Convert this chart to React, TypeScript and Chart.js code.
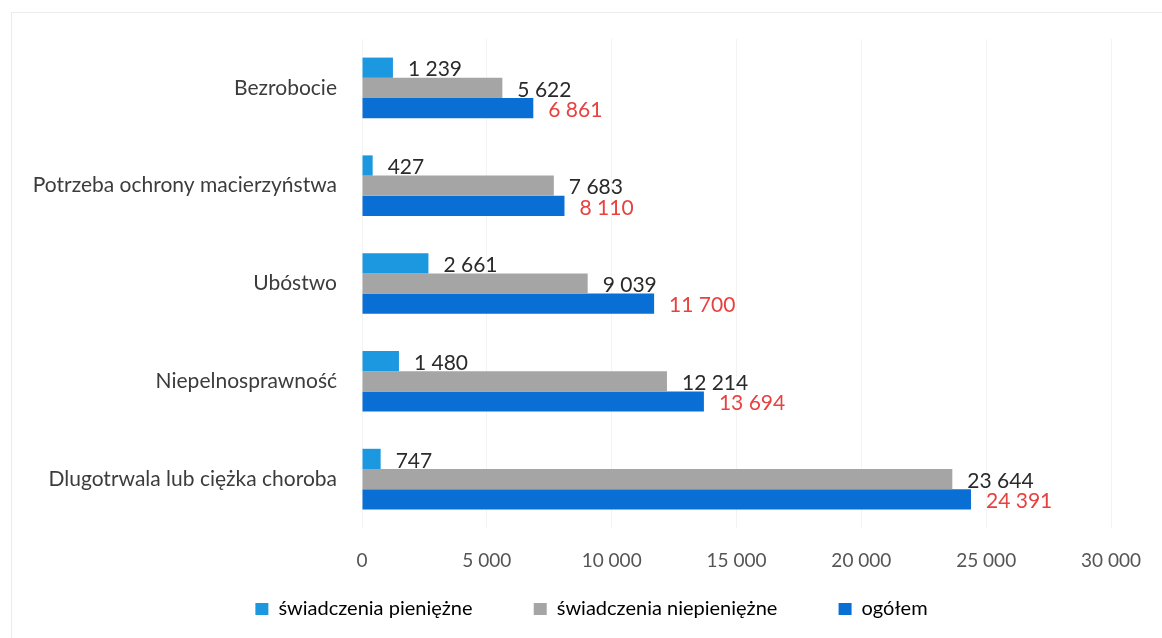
import React, { useEffect, useRef } from "react";
import { Chart, registerables } from "chart.js";

Chart.register(...registerables);

const categories = [
  "Bezrobocie",
  "Potrzeba ochrony macierzyństwa",
  "Ubóstwo",
  "Niepelnosprawność",
  "Dlugotrwala lub ciężka choroba",
];
const seriesNames = ["świadczenia pieniężne", "świadczenia niepieniężne", "ogółem"];
const pieniezne = [1239, 427, 2661, 1480, 747];
const niepieniezne = [5622, 7683, 9039, 12214, 23644];
const ogolem = [6861, 8110, 11700, 13694, 24391];
const axisMin = 0;
const axisMax = 30000;
const axisStep = 5000;

const FONT = "Lato, 'Open Sans', sans-serif";
const colors = ["#1C98E0", "#A5A5A5", "#0A6FD4"];
const labelColors = ["#2a2a2a", "#2a2a2a", "#E8413F"];

const fmt = (n: number) => String(n).replace(/\B(?=(\d{3})+(?!\d))/g, " ");

const valueLabels = {
  id: "valueLabels",
  afterDatasetsDraw(chart: any) {
    const ctx = chart.ctx;
    chart.data.datasets.forEach((ds: any, di: number) => {
      const meta = chart.getDatasetMeta(di);
      meta.data.forEach((el: any, i: number) => {
        ctx.save();
        ctx.font = `21px ${FONT}`;
        ctx.fillStyle = labelColors[di];
        ctx.textAlign = "left";
        ctx.textBaseline = "middle";
        ctx.fillText(fmt(ds.data[i]), el.x + 15, el.y + 2);
        ctx.restore();
      });
    });
  },
};

const frame = {
  id: "frame",
  beforeDraw(chart: any) {
    const ctx = chart.ctx;
    ctx.save();
    ctx.fillStyle = "#ffffff";
    ctx.fillRect(0, 0, chart.width, chart.height);
    ctx.strokeStyle = "#ececec";
    ctx.lineWidth = 1;
    ctx.strokeRect(11.5, 12.5, chart.width + 10, chart.height + 10);
    ctx.restore();
  },
};

// shift the legend row so it is centred like in the reference
const legendShift = {
  id: "legendShift",
  afterLayout(chart: any) {
    if (chart.legend) {
      chart.legend.left += 26;
      chart.legend.right += 26;
    }
  },
};

export default function App() {
  const ref = useRef<HTMLCanvasElement | null>(null);
  useEffect(() => {
    document.body.style.margin = "0";
    const gap = "\u00a0".repeat(10);
    const legendTexts = seriesNames.map((s, i) => (i < seriesNames.length - 1 ? s + gap : s));
    const chart = new Chart(ref.current as HTMLCanvasElement, {
      type: "bar",
      data: {
        labels: categories,
        datasets: [pieniezne, niepieniezne, ogolem].map((d, i) => ({
          label: seriesNames[i],
          data: d,
          backgroundColor: colors[i],
          borderWidth: 0,
          barPercentage: 1,
          categoryPercentage: 0.62,
        })),
      },
      options: {
        indexAxis: "y",
        animation: false,
        responsive: true,
        maintainAspectRatio: false,
        layout: { padding: { top: 39, right: 31, bottom: 9, left: 0 } },
        plugins: {
          tooltip: { enabled: false },
          legend: {
            position: "bottom",
            labels: {
              boxWidth: 13,
              boxHeight: 12,
              padding: 10,
              color: "#404040",
              font: { family: FONT, size: 20 },
              generateLabels: (chart: any) =>
                chart.data.datasets.map((ds: any, i: number) => ({
                  text: legendTexts[i],
                  fillStyle: colors[i],
                  strokeStyle: colors[i],
                  lineWidth: 0,
                  hidden: false,
                  datasetIndex: i,
                })),
            },
          },
        },
        scales: {
          x: {
            min: axisMin,
            max: axisMax,
            ticks: {
              stepSize: axisStep,
              padding: 21,
              color: "#555555",
              font: { family: FONT, size: 19 },
              callback: (v: any) => fmt(Number(v)),
            },
            grid: { color: "#f3f3f3", drawTicks: false },
            border: { display: false },
            afterFit: (scale: any) => {
              scale.height = 61;
            },
          },
          y: {
            ticks: {
              padding: 25,
              color: "#3c3c3c",
              font: { family: FONT, size: 21 },
            },
            grid: { display: false, drawTicks: false },
            border: { display: false },
            afterFit: (scale: any) => {
              scale.width = 362;
            },
          },
        },
      },
      plugins: [frame, legendShift, valueLabels],
    });
    return () => chart.destroy();
  }, []);
  return (
    <div style={{ width: 1162, height: 638, position: "relative" }}>
      <canvas ref={ref} />
    </div>
  );
}
